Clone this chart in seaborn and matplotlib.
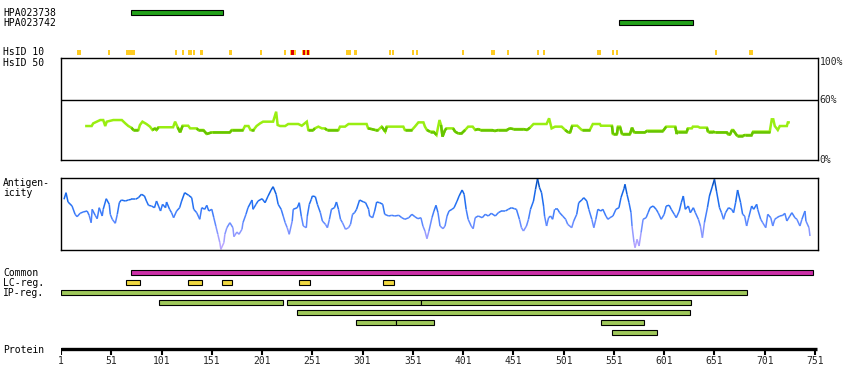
import numpy as np
import matplotlib
matplotlib.use("Agg")
import matplotlib.pyplot as plt
import seaborn as sns
from matplotlib.collections import LineCollection
from matplotlib.colors import LinearSegmentedColormap

# Antibody targets (residues)
hpa_names = ["HPA023738", "HPA023742"]
hpa_start = [71, 556]
hpa_end = [162, 630]

# HsID 10 hits: yellow = moderate, red = high
hsid_low_start = [17, 48, 66, 114, 121, 127, 132, 139, 168, 199, 223, 229, 241, 284, 292,
                  327, 330, 350, 354, 400, 429, 445, 474, 480, 534, 549, 553, 652, 685]
hsid_low_end = [21, 50, 75, 116, 123, 131, 134, 142, 171, 201, 225, 235, 249, 289, 295,
                329, 332, 352, 356, 402, 433, 447, 476, 482, 538, 551, 555, 654, 689]
hsid_high_start = [230, 242, 245.5]
hsid_high_end = [233, 244, 248]

# HsID 50 similarity (%)
sim_pos = [25, 31.5, 33, 36.5, 40, 43, 45, 46.5, 53, 61.5, 65, 68, 71, 73, 78, 79.5, 82, 86,
           89.5, 92, 94.5, 96, 98, 112.5, 114.5, 117, 119.5, 122, 127.5, 129.5, 136, 137.5,
           142.5, 146, 151, 169, 171, 182, 184, 187.5, 189.5, 192.5, 195.5, 199, 202, 212,
           215, 216.5, 219, 224, 227, 237, 240.5, 245.5, 247, 252, 253.5, 257, 260.5, 263.5,
           265.5, 277, 278.5, 283.5, 287, 305, 306.5, 310, 313.5, 316.5, 320, 323.5, 325,
           341.5, 343, 350, 353, 356.5, 361.5, 363, 365, 368, 371.5, 374.5, 377.5, 379,
           380.5, 383, 384.5, 391, 393, 396, 399.5, 403, 406, 410.5, 413, 416, 418, 429.5,
           432.5, 436, 444.5, 447.5, 451, 461, 464.5, 467.5, 471, 484, 486.5, 489, 492.5,
           499, 502.5, 505.5, 507.5, 509.5, 514.5, 519, 527, 530, 537, 538, 549, 550, 554,
           555, 557, 559, 567, 569, 571, 582, 584, 600, 603, 612, 613.5, 614.5, 623.5,
           624.5, 628.5, 629.5, 634.5, 636.5, 643.5, 644.5, 649.5, 651.5, 663.5, 664.5,
           666.5, 668.5, 669.5, 673.5, 679.5, 681.5, 688, 689.5, 706, 708, 709.5, 711, 714,
           716, 723, 724, 726]
sim_val = [33.4, 33.4, 36, 37.7, 39.3, 39.3, 33.4, 37.7, 39.3, 39.3, 36, 33.4, 31.8, 29.5,
           29.5, 34.4, 37.7, 35.4, 32.8, 29.5, 31.1, 29.5, 32.2, 32.2, 37.7, 32.2, 27.2, 33.7,
           33.7, 31.1, 31.1, 29.5, 29.5, 25.6, 27.2, 27.2, 29.5, 29.5, 33.4, 33.4, 29.5, 29.5,
           33.4, 36, 37.7, 37.7, 47.5, 34.4, 33.4, 33.4, 35.4, 35.4, 33.7, 37.7, 29.5, 29.5,
           31.1, 32.8, 31.1, 31.1, 29.5, 29.5, 32.8, 32.8, 35.4, 35.4, 31.1, 30.4, 29.5, 29.5,
           32.8, 27.9, 32.8, 32.8, 29.5, 29.5, 32.8, 37, 37, 32.8, 29.5, 27.9, 27.9, 24.6,
           39.3, 34.4, 23, 29.5, 31.1, 31.1, 27.9, 26.2, 26.2, 29.5, 32.8, 32.8, 29.5, 30.4,
           29.5, 29.5, 28.5, 29.5, 29.5, 31.1, 30.4, 30.4, 29.5, 31.8, 35.4, 35.4, 41, 31.1,
           32.8, 32.8, 29.5, 27.2, 27.2, 33.7, 33.7, 29.5, 29.5, 35.4, 35.4, 33.7, 33.7, 25.6,
           25.6, 32.8, 32.8, 25.6, 25.6, 31.8, 27.2, 27.2, 28.8, 28.8, 32.8, 32.8, 25.6, 27.9,
           27.9, 31.1, 31.1, 32.8, 32.8, 31.8, 31.8, 27.9, 27.9, 27.2, 27.2, 25.2, 25.2, 29.5,
           29.5, 23.9, 23.9, 24.6, 24.6, 27.9, 27.9, 40, 40, 33.4, 29.5, 33.4, 33.4, 37, 37]

# Antigenicity profile (arbitrary units)
ant_pos = [4, 6, 8, 12, 15, 17, 20, 23, 27, 29, 31, 32, 35, 37, 39, 42, 43, 46, 49, 50, 52,
           55, 57, 59, 61, 65, 68, 71, 75, 78, 81, 84, 86, 88, 91, 94, 96, 98, 100, 102, 105,
           106, 109, 111, 113, 116, 119, 121, 124, 128, 131, 133, 136, 139, 141, 144, 146,
           148, 151, 153, 155, 157, 159, 160, 163, 164, 166, 169, 172, 173, 176, 178, 181,
           182, 185, 187, 191, 192, 195, 197, 201, 204, 207, 210, 212, 215, 217, 220, 222,
           224, 226, 228, 231, 232, 236, 238, 240, 242, 245, 246, 248, 250,
           251, 254, 256, 259, 261, 264, 266, 268, 270, 273, 275, 277, 279, 281, 284, 287,
           289, 291, 293, 295, 298, 302, 304, 307, 308, 311, 313, 315, 318, 321, 323, 327,
           330, 333, 337, 340, 343, 347, 350, 353, 356, 359, 361, 363, 365, 367, 370, 372,
           374, 376, 378, 381, 383, 385, 387, 390, 392, 395, 397, 400, 402, 404, 406, 409,
           411, 413, 416, 420, 423, 426, 429, 433, 436, 439, 443, 446, 449, 452, 454, 457,
           459, 461, 464, 466, 468, 471, 473, 475, 477, 479, 481, 482, 484, 486, 488, 490,
           492, 495, 497, 500,
           503, 505, 509, 511, 514, 516, 519, 521, 524, 526, 529, 531, 533, 535, 538, 540,
           543, 545, 547, 550, 553, 556, 558, 561, 562, 564, 566, 568, 569, 571, 572, 574,
           576, 578, 580, 583, 585, 587, 590, 593, 595, 598, 601, 603, 606, 608, 611, 613,
           616, 618, 620, 622, 625, 627, 630, 632, 635, 637, 639, 641, 644, 646, 649, 651,
           653, 656, 658, 660, 662, 665, 668, 670, 672, 674, 677, 679, 681, 683, 685, 688,
           690, 693, 694, 697, 699, 702, 704, 707, 709, 711, 713, 716, 719, 721, 723, 726,
           728, 731, 733, 736, 738, 741, 742, 745, 746]
ant_val = [50.7, 57.3, 48, 44, 35.7, 33.3, 36.7, 38, 39, 34.7, 27.3, 40.7, 34.7, 31.3, 42.3,
           34, 40.7, 51.3, 45.7, 35.7, 30.7, 26.7, 35.7, 47.3, 50, 49, 50, 50.7, 50.7, 52.3,
           55.7, 54, 49, 44.7, 44, 42.3, 49, 44, 39, 45.7, 42.3, 48, 40.7, 37.3, 32.3, 39,
           42.3, 49, 57.3, 54.7, 52.3, 40.7, 37.3, 30.7, 42.3, 40.7, 44.7, 39, 40.7, 32.3, 24,
           15.7, 7.3, 0.7, 7.3, 15.7, 22.3, 27.3, 22.3, 13.3, 18, 15.7, 20.7, 27.3, 35.7, 42.3,
           50, 40.7, 45.7, 49, 51.3, 47.3, 54, 60, 63.3, 55.7, 45.7, 40.7, 34, 27.3, 22.3,
           15.7, 29, 40.7, 42.3, 47.3, 34, 24, 22.3, 34, 45.7, 50.7,
           54, 53.3, 45.7, 37.3, 29, 25.7, 22.3, 30.7, 40.7, 42.3, 48, 40.7, 30.7, 27.3, 20.7,
           22.3, 25.7, 35.7, 37.3, 40.7, 50, 48, 47.3, 40.7, 34, 32.3, 39, 48, 47.3, 45.7,
           35.7, 34, 34.7, 34, 34.7, 32.3, 30.7, 32.3, 35.7, 33.3, 31.3, 32.3, 24, 19, 11.3,
           19, 32.3, 39, 44.7, 37.3, 24, 21.3, 24, 34, 39, 40.7, 42.3, 49, 54, 60, 55.7, 40.7,
           30.7, 24, 21.3, 32.3, 34, 32.3, 35.7, 34, 36.7, 34, 37.3, 39, 39, 40.7, 42.3, 41.3,
           40.7, 30.7, 22.3, 19, 24, 30.7, 40.7, 49, 60.7, 71.3, 62.3, 57.3, 44, 34, 24, 32.3,
           34, 30.7, 40.7, 40.7, 37.3, 34,
           30.7, 25.7, 22.3, 29, 35.7, 47.3, 50, 52.3, 49, 40.7, 30.7, 22.3, 30.7, 40.7, 39,
           40.7, 34, 30.7, 32.3, 34, 40.7, 42.3, 52.3, 61.3, 65.7, 55.7, 47.3, 37.3, 24, 7.3,
           2.3, 10.7, 4, 17.3, 30.7, 32.3, 37.3, 42.3, 44, 40.7, 37.3, 30.7, 35.7, 44, 44.7,
           40.7, 35.7, 32.3, 39, 47.3, 54, 40.7, 44, 37.3, 42.3, 37.3, 30.7, 24, 12.3, 27.3,
           42.3, 54, 64, 70.7, 59, 42.3, 37.3, 30.7, 37.3, 42.3, 40.7, 37.3, 47.3, 60, 47.3,
           35.7, 34, 24, 32.3, 44, 40.7, 45.7, 40.7, 30.7, 27.3, 22.3, 35.7, 32.3, 24, 30.7,
           32.3, 34, 34.7, 36.7, 29, 34, 37.3, 32.3, 30.7, 24, 30.7, 39, 29, 22.3, 14]

# Region annotations
common_start = [71]
common_end = [749]
lc_start = [66, 127, 161, 238, 321]
lc_end = [80, 141, 171, 249, 332]
ip_row = [0, 1, 1, 1, 2, 3, 3, 3, 4]
ip_start = [1, 98, 226, 359, 236, 294, 334, 538, 549]
ip_end = [683, 222, 359, 628, 627, 334, 372, 581, 594]

protein_length = 751
tick_pos = list(range(1, protein_length + 1, 50))
tick_labels = [str(t) for t in tick_pos]

sns.set_theme(style="white")
plt.rcParams['font.family'] = ['DejaVu Sans Mono']
plt.rcParams['font.size'] = 7

W, H = 850, 390
fig = plt.figure(figsize=(W / 100, H / 100), dpi=100)
fig.patch.set_facecolor("white")

X0, X1 = 61, 817.5
PX_PER_RES = 754 / 750
xmax = 1 + (X1 - X0) / PX_PER_RES


def px_axes(left, top, right, bottom):
    return fig.add_axes([left / W, 1 - bottom / H, (right - left) / W, (bottom - top) / H])


def label(x, y, s, **kw):
    fig.text(x / W, 1 - y / H, s, va="center", ha="left", color="black", **kw)


# ---- track axes (pixel rows on y, residues on x)
ax = px_axes(X0, 0, X1, H)
ax.set_xlim(1, xmax)
ax.set_ylim(H, 0)
ax.axis("off")
ax.patch.set_alpha(0)

bar_h = 4.4
edge = dict(edgecolor="black", linewidth=0.8)
for i in range(len(hpa_names)):
    ax.barh(12.5 + 10 * i, hpa_end[i] - hpa_start[i], left=hpa_start[i], height=bar_h,
            color="#22a11a", **edge)

ax.bar(hsid_low_start, 5, width=np.subtract(hsid_low_end, hsid_low_start), bottom=50,
       align="edge", color="#ffcc22", linewidth=0)
ax.bar(hsid_high_start, 5, width=np.subtract(hsid_high_end, hsid_high_start), bottom=50,
       align="edge", color="#dd0000", linewidth=0)

ax.barh([272.5] * len(common_start), np.subtract(common_end, common_start), left=common_start,
        height=bar_h, color="#cc2fa8", **edge)
ax.barh([282.5] * len(lc_start), np.subtract(lc_end, lc_start), left=lc_start,
        height=bar_h, color="#f0d840", **edge)
ax.barh([292.5 + 10 * r for r in ip_row], np.subtract(ip_end, ip_start), left=ip_start,
        height=bar_h, color="#9fc85a", **edge)

# protein ruler
ax.hlines(349.3, 1, protein_length + 1.5, color="black", linewidth=2.4)
ax.vlines(tick_pos, 348, 354.5, color="black", linewidth=1.5)
for p, t in zip(tick_pos, tick_labels):
    ax.text(p, 361.5, t, ha="center", va="center", fontsize=7)

# ---- similarity panel
ax_sim = px_axes(X0, 58.3, X1, 160)
ax_sim.set_xlim(1, xmax)
ax_sim.set_ylim(0, 100)
ax_sim.axhline(59, color="black", linewidth=1.0)
sns.lineplot(x=sim_pos, y=sim_val, ax=ax_sim, color="#99ee11", linewidth=1.8,
             estimator=None, sort=False, solid_joinstyle="miter", solid_capstyle="butt")
pts = np.column_stack([sim_pos, sim_val])
segs = np.stack([pts[:-1], pts[1:]], axis=1)
low = (np.array(sim_val[:-1]) + np.array(sim_val[1:])) / 2 < 31
ax_sim.add_collection(LineCollection(segs[low], colors="#66c400", linewidths=1.8,
                                     capstyle="butt", joinstyle="miter"))
for lab, yv in [("100%", 96), ("60%", 59), ("0%", 0)]:
    ax_sim.text(1.003, yv, lab, transform=ax_sim.get_yaxis_transform(),
                ha="left", va="center", fontsize=7)

# ---- antigenicity panel
ax_ant = px_axes(X0, 178.3, X1, 250)
ax_ant.set_xlim(1, xmax)
ax_ant.set_ylim(0, 71.7)
cmap = LinearSegmentedColormap.from_list(
    "ant", ["#c4a8ff", "#9a9cff", "#5b88ff", "#2a74f6", "#1466e8", "#0048b4"])
apts = np.column_stack([ant_pos, ant_val])
asegs = np.stack([apts[:-1], apts[1:]], axis=1)
amid = (np.array(ant_val[:-1]) + np.array(ant_val[1:])) / 2
lc = LineCollection(asegs, cmap=cmap, linewidths=1.1)
lc.set_array(amid)
lc.set_clim(0, 72)
ax_ant.add_collection(lc)

for a in (ax_sim, ax_ant):
    a.set_xticks([])
    a.set_yticks([])
    a.set_xlabel("")
    a.set_ylabel("")
    a.set_facecolor("white")
    for s in a.spines.values():
        s.set_visible(True)
        s.set_color("black")
        s.set_linewidth(1.0)

# ---- row labels
label(3, 12.7, "HPA023738")
label(3, 22.7, "HPA023742")
label(3, 52.3, "HsID 10")
label(3, 62.7, "HsID 50")
label(3, 182.7, "Antigen-")
label(3, 193.3, "icity")
label(3, 272.7, "Common")
label(3, 283.3, "LC-reg.")
label(3, 292.7, "IP-reg.")
label(3, 350, "Protein")

fig.savefig("out.png", dpi=100, facecolor="white")
